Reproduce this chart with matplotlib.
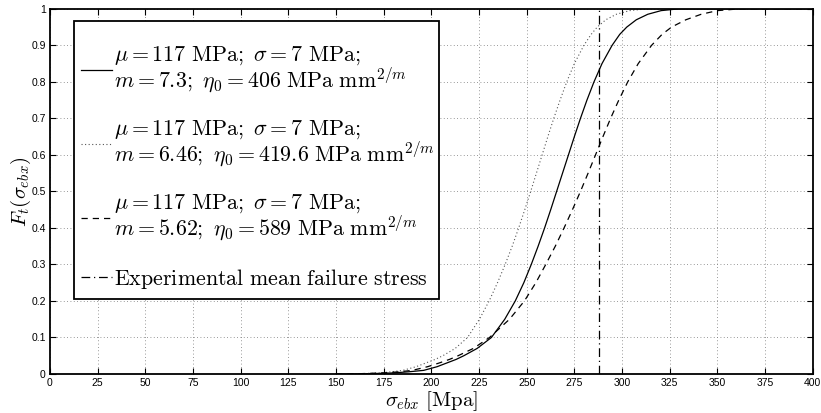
import matplotlib
matplotlib.use("Agg")
import matplotlib.pyplot as plt
from matplotlib.patches import Rectangle

plt.rcParams['mathtext.fontset'] = 'cm'
plt.rcParams['font.family'] = ['Liberation Sans', 'DejaVu Sans']

# Curve 1 (solid): m = 7.3
x_solid = [150, 168, 180, 188, 196, 203, 208, 213, 217, 224, 231.5, 238.5, 244, 248.5, 252.4, 256, 259.4, 262.6, 265.7, 268.8, 271.9,
           275.0, 278.2, 281.6, 285.3, 289.5, 294.8, 298.8, 302.5, 307.5, 313.5, 320.5, 330, 400]
y_solid = [0.0, 0.001, 0.003, 0.006, 0.01, 0.02, 0.03, 0.04, 0.05, 0.07, 0.10, 0.15, 0.20, 0.25, 0.30, 0.35, 0.40, 0.45, 0.50, 0.55, 0.60,
           0.65, 0.70, 0.75, 0.80, 0.85, 0.90, 0.93, 0.95, 0.97, 0.985, 0.995, 1.0, 1.0]

# Curve 2 (dotted): m = 6.46
x_dot = [150, 163, 173, 179, 185, 192, 197, 202, 206, 212.5, 219, 225.2, 230.3, 234.7, 238.7, 242.4, 245.8, 249, 252.1, 255.1, 258.1,
         261.1, 264.2, 267.5, 271, 275, 280, 283.8, 287, 291.5, 297, 304, 313, 400]
y_dot = [0.0, 0.001, 0.003, 0.006, 0.01, 0.02, 0.03, 0.04, 0.05, 0.07, 0.10, 0.15, 0.20, 0.25, 0.30, 0.35, 0.40, 0.45, 0.50, 0.55, 0.60,
         0.65, 0.70, 0.75, 0.80, 0.85, 0.90, 0.93, 0.95, 0.97, 0.985, 0.995, 1.0, 1.0]

# Curve 3 (dashed): m = 5.62
x_dash = [150, 163, 175, 183, 190, 198, 204, 209.5, 214, 222, 230.5, 241, 248.8, 254.8, 260, 265, 269.6, 274, 278.2, 282.2, 286.1,
          290, 294, 298.3, 303, 308.5, 315.5, 321, 326, 333.5, 341.5, 350, 362, 400]
y_dash = [0.0, 0.001, 0.003, 0.006, 0.01, 0.02, 0.03, 0.04, 0.05, 0.07, 0.10, 0.15, 0.20, 0.25, 0.30, 0.35, 0.40, 0.45, 0.50, 0.55, 0.60,
          0.65, 0.70, 0.75, 0.80, 0.85, 0.90, 0.93, 0.95, 0.97, 0.985, 0.995, 1.0, 1.0]

exp_mean = 288

labels = [
    "$\\mu = 117\\ \\mathrm{MPa};\\ \\sigma = 7\\ \\mathrm{MPa};$\n$m = 7.3;\\ \\eta_0 = 406\\ \\mathrm{MPa\\ mm}^{2/m}$",
    "$\\mu = 117\\ \\mathrm{MPa};\\ \\sigma = 7\\ \\mathrm{MPa};$\n$m = 6.46;\\ \\eta_0 = 419.6\\ \\mathrm{MPa\\ mm}^{2/m}$",
    "$\\mu = 117\\ \\mathrm{MPa};\\ \\sigma = 7\\ \\mathrm{MPa};$\n$m = 5.62;\\ \\eta_0 = 589\\ \\mathrm{MPa\\ mm}^{2/m}$",
    "$\\mathrm{Experimental\\ mean\\ failure\\ stress}$",
]

xticks = list(range(0, 401, 25))
yticks = [0, 0.1, 0.2, 0.3, 0.4, 0.5, 0.6, 0.7, 0.8, 0.9, 1]
yticklabels = ['0', '0.1', '0.2', '0.3', '0.4', '0.5', '0.6', '0.7', '0.8', '0.9', '1']

W, H = 821, 413
fig = plt.figure(figsize=(W / 100, H / 100), dpi=100)
ax = fig.add_axes([0.0609, 0.0944, 0.929, 0.8843])

ax.plot(x_solid, y_solid, color='black', lw=0.9, ls='-', label=labels[0])
ax.plot(x_dot, y_dot, color='#555555', lw=0.8, ls=(0, (1, 2.2)), label=labels[1])
ax.plot(x_dash, y_dash, color='black', lw=0.9, ls=(0, (5, 4)), label=labels[2])
ax.plot([exp_mean, exp_mean], [0, 1], color='black', lw=0.9, ls=(0, (7, 3, 1, 3)), label=labels[3])

ax.set_xlim(0, 400)
ax.set_ylim(0, 1)
ax.set_xticks(xticks)
ax.set_xticklabels([str(v) for v in xticks])
ax.set_yticks(yticks)
ax.set_yticklabels(yticklabels)
ax.tick_params(direction='in', top=True, right=True, labelsize=7.5, length=4, width=0.8, pad=3)
ax.grid(True, color='#777777', lw=0.6, ls=(0, (1, 3)))

for s in ax.spines.values():
    s.set_linewidth(1.3)

ax.set_xlabel("$\\sigma_{ebx}\\ [\\mathrm{Mpa}]$", fontsize=15, labelpad=1)
ax.set_ylabel("$F_t(\\sigma_{ebx})$", fontsize=15, labelpad=-1)

# legend frame (drawn separately to match the reference's asymmetric padding)
box_l, box_t, box_r, box_b = 74, 21, 439, 299
frame = Rectangle((box_l / W, 1 - box_b / H), (box_r - box_l) / W, (box_b - box_t) / H,
                  transform=fig.transFigure, facecolor='white', edgecolor='black',
                  lw=1.3, zorder=4.5)
ax.add_artist(frame)

leg = ax.legend(loc='upper left', bbox_to_anchor=(81 / W, 1 - 44 / H), bbox_transform=fig.transFigure,
                fontsize=15.8, frameon=False,
                handlelength=1.4, handletextpad=0.1, labelspacing=1.08,
                borderpad=0.0, borderaxespad=0.0)
leg.set_zorder(5)
for t in leg.get_texts():
    t.set_linespacing(0.95)

fig.savefig('out.png', dpi=100)
